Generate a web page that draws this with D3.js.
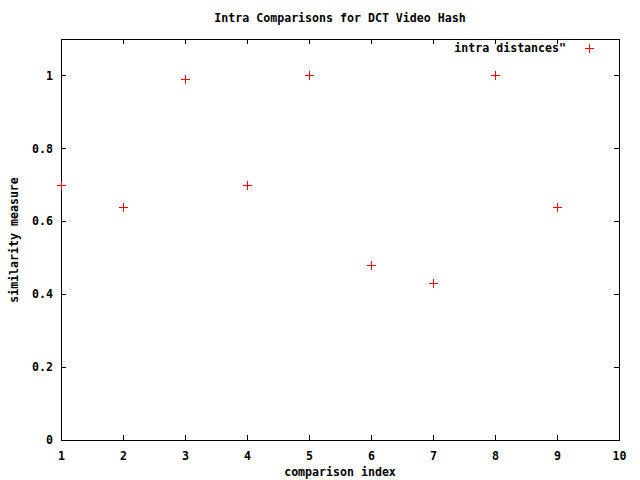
<!DOCTYPE html>
<html>
<head>
<meta charset="utf-8">
<script src="https://cdn.jsdelivr.net/npm/d3@7"></script>
<style>
  body { margin: 0; background: #fff; }
  text { font-family: "DejaVu Sans Mono", monospace; font-weight: bold; font-size: 11.6px; fill: #000; }
</style>
</head>
<body>
<svg id="chart" width="640" height="480"></svg>
<script>
// comparison index vs similarity measure
var indices = [1, 2, 3, 4, 5, 6, 7, 8, 9];
var similarity = [0.70, 0.64, 0.99, 0.70, 1.0, 0.48, 0.43, 1.0, 0.64];
var xTicks = [1, 2, 3, 4, 5, 6, 7, 8, 9, 10];
var yTicks = [0, 0.2, 0.4, 0.6, 0.8, 1];

var width = 640, height = 480;
var margin = {left: 61, right: 21, top: 39, bottom: 40};

var svg = d3.select("#chart");

var x = d3.scaleLinear()
    .domain([1, 10])
    .range([margin.left, width - margin.right]);

var y = d3.scaleLinear()
    .domain([0, 1.1])
    .range([height - margin.bottom, margin.top]);

var fmt = d3.format("~g");

// bottom axis with labels, ticks pointing in
svg.append("g")
    .attr("transform", "translate(0," + y(0) + ")")
    .call(d3.axisBottom(x).tickValues(xTicks).tickSizeInner(-5).tickSizeOuter(0).tickPadding(12).tickFormat(fmt));

// top axis, ticks only
svg.append("g")
    .attr("transform", "translate(0," + y(1.1) + ")")
    .call(d3.axisTop(x).tickValues(xTicks).tickSizeInner(-5).tickSizeOuter(0).tickFormat(""));

// left axis with labels
svg.append("g")
    .attr("transform", "translate(" + x(1) + ",0)")
    .call(d3.axisLeft(y).tickValues(yTicks).tickSizeInner(-5).tickSizeOuter(0).tickPadding(8).tickFormat(fmt));

// right axis, ticks only
svg.append("g")
    .attr("transform", "translate(" + x(10) + ",0)")
    .call(d3.axisRight(y).tickValues(yTicks).tickSizeInner(-5).tickSizeOuter(0).tickFormat(""));

svg.selectAll(".domain, .tick line")
    .attr("stroke", "#000")
    .attr("shape-rendering", "crispEdges");
svg.selectAll(".tick text")
    .attr("font-family", null)
    .attr("font-size", null)
    .attr("fill", "#000");

// frame
svg.append("rect")
    .attr("x", x(1))
    .attr("y", y(1.1))
    .attr("width", x(10) - x(1))
    .attr("height", y(0) - y(1.1))
    .attr("fill", "none")
    .attr("stroke", "#000")
    .attr("shape-rendering", "crispEdges");

// titles
svg.append("text")
    .attr("x", 340).attr("y", 22)
    .attr("text-anchor", "middle")
    .text("Intra Comparisons for DCT Video Hash");

svg.append("text")
    .attr("x", 340).attr("y", 476)
    .attr("text-anchor", "middle")
    .text("comparison index");

svg.append("text")
    .attr("transform", "translate(18,240) rotate(-90)")
    .attr("text-anchor", "middle")
    .text("similarity measure");

// plus markers, centred on pixel so the 1px strokes stay pure red
var plus = function(sel, size) {
  sel.append("path")
      .attr("d", "M" + (-size) + ",0H" + size + "M0," + (-size) + "V" + size)
      .attr("stroke", "#ff0000")
      .attr("stroke-width", 1)
      .attr("fill", "none");
};

var pts = svg.selectAll("g.pt")
    .data(indices)
  .enter().append("g")
    .attr("class", "pt")
    .attr("transform", function(d, i) {
      return "translate(" + (Math.round(x(d)) + 0.5) + "," + (Math.round(y(similarity[i])) + 0.5) + ")";
    });
plus(pts, 4.5);

// legend
var legend = svg.append("g").attr("transform", "translate(566,48)");
legend.append("text")
    .attr("x", 0).attr("y", 4)
    .attr("text-anchor", "end")
    .text("intra distances\"");
plus(legend.append("g").attr("transform", "translate(23.5,0.5)"), 4.5);
</script>
</body>
</html>
